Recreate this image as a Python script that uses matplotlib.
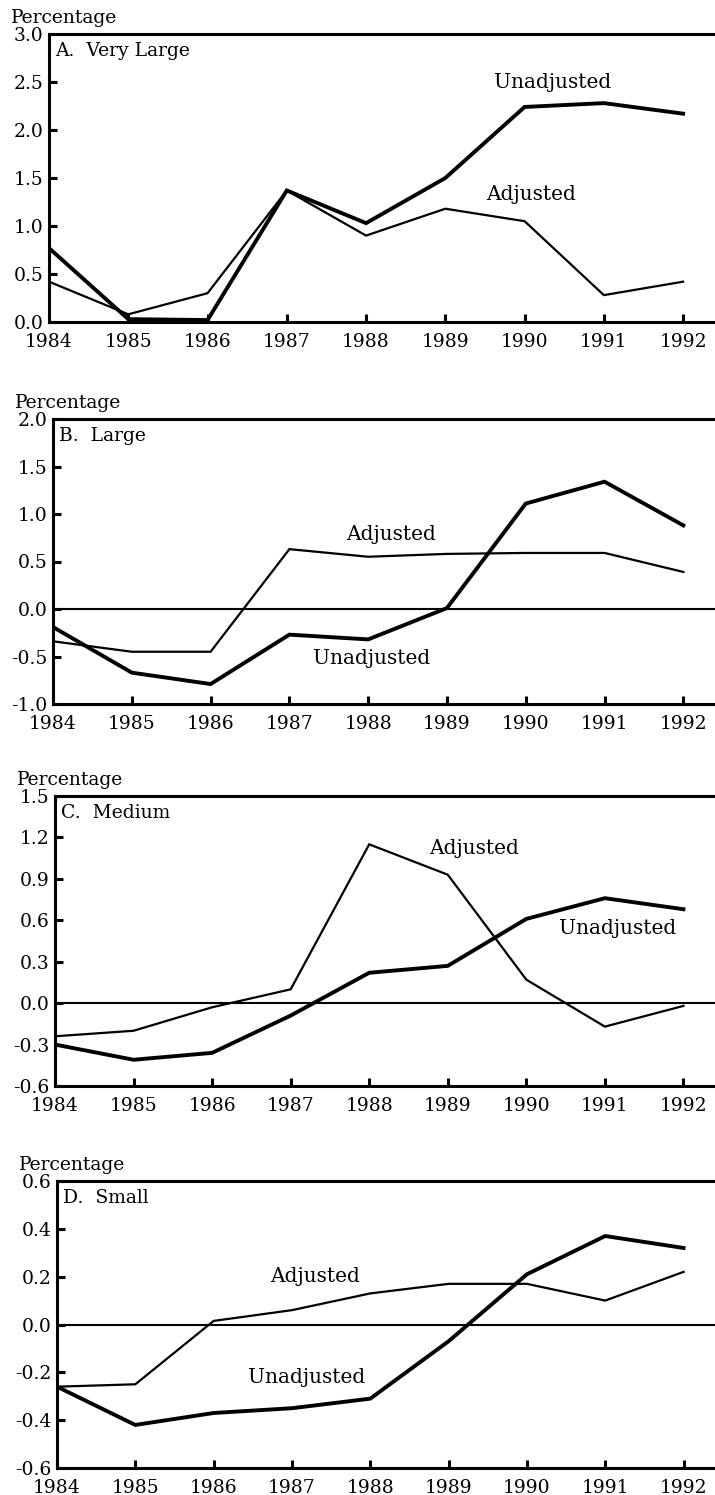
#Plot: unadjusted vs adjusted percentages by size class (1984-1992)
import matplotlib
matplotlib.use("Agg")
import matplotlib.pyplot as plt
from matplotlib.ticker import FuncFormatter

plt.rcParams.update({'font.family': 'DejaVu Serif'})

years = [1984, 1985, 1986, 1987, 1988, 1989, 1990, 1991, 1992]

#A. Very Large
a_unadj = [0.77, 0.03, 0.02, 1.37, 1.03, 1.50, 2.24, 2.28, 2.17]
a_adj = [0.42, 0.08, 0.30, 1.37, 0.90, 1.18, 1.05, 0.28, 0.42]
#B. Large
b_unadj = [-0.19, -0.67, -0.79, -0.27, -0.32, 0.01, 1.11, 1.34, 0.88]
b_adj = [-0.34, -0.45, -0.45, 0.63, 0.55, 0.58, 0.59, 0.59, 0.39]
#C. Medium
c_unadj = [-0.30, -0.41, -0.36, -0.09, 0.22, 0.27, 0.61, 0.76, 0.68]
c_adj = [-0.24, -0.20, -0.03, 0.10, 1.15, 0.93, 0.17, -0.17, -0.02]
#D. Small
d_unadj = [-0.26, -0.42, -0.37, -0.35, -0.31, -0.07, 0.21, 0.37, 0.32]
d_adj = [-0.26, -0.25, 0.015, 0.06, 0.13, 0.17, 0.17, 0.10, 0.22]

titles = ["A.  Very Large", "B.  Large", "C.  Medium", "D.  Small"]
yticks_a = [0.0, 0.5, 1.0, 1.5, 2.0, 2.5, 3.0]
yticks_b = [-1.0, -0.5, 0.0, 0.5, 1.0, 1.5, 2.0]
yticks_c = [-0.6, -0.3, 0.0, 0.3, 0.6, 0.9, 1.2, 1.5]
yticks_d = [-0.6, -0.4, -0.2, 0.0, 0.2, 0.4, 0.6]

#label spots (x year, y value) for "Unadjusted" / "Adjusted"
unadj_pos = [(1990.35, 2.50), (1988.05, -0.52), (1991.16, 0.54), (1987.19, -0.22)]
adj_pos = [(1990.08, 1.33), (1988.29, 0.78), (1989.34, 1.12), (1987.30, 0.20)]

fig = plt.figure(figsize=(7.15, 14.95), dpi=100)
W, H = 715.0, 1495.0
#axes boxes in pixels: left, top, bottom (the scan drifts a bit to the right)
boxes = [(49, 34, 322), (53, 419, 704), (55, 796, 1086), (57, 1181, 1468)]

panels = [(a_unadj, a_adj, yticks_a), (b_unadj, b_adj, yticks_b),
          (c_unadj, c_adj, yticks_c), (d_unadj, d_adj, yticks_d)]

fmt = FuncFormatter(lambda v, p: ("%.1f" % v).replace("\u2212", "-"))

for i, (unadj, adj, yt) in enumerate(panels):
    left, top, bottom = boxes[i]
    ax = fig.add_axes([left / W, 1 - bottom / H, (W - left) / W + 0.002, (bottom - top) / H])
    ax.plot(years, adj, color="black", linewidth=1.6, solid_joinstyle="miter")
    ax.plot(years, unadj, color="black", linewidth=2.8, solid_joinstyle="miter")
    if yt[0] < 0:
        ax.axhline(0, color="black", linewidth=1.5)

    ax.set_xlim(1984, 1992.42)
    ax.set_ylim(yt[0], yt[-1])
    ax.set_xticks(years)
    ax.set_yticks(yt)
    ax.yaxis.set_major_formatter(fmt)
    ax.tick_params(axis="both", direction="in", length=6, width=2.2, labelsize=13.5)
    ax.tick_params(axis="x", pad=8)
    ax.tick_params(axis="y", pad=4)
    for s in ["left", "bottom", "top"]:
        ax.spines[s].set_linewidth(2.2)
    ax.spines["right"].set_visible(False)

    ax.annotate(titles[i], xy=(0, 1), xycoords="axes fraction", xytext=(4.5, -5.5),
                textcoords="offset points", ha="left", va="top", fontsize=13.5)
    ax.annotate("Percentage", xy=(0, 1), xycoords="axes fraction", xytext=(-27.5, 7.9),
                textcoords="offset points", ha="left", va="baseline", fontsize=13.5)
    ax.text(unadj_pos[i][0], unadj_pos[i][1], "Unadjusted", ha="center", va="center", fontsize=14.5)
    ax.text(adj_pos[i][0], adj_pos[i][1], "Adjusted", ha="center", va="center", fontsize=14.5)

fig.savefig("out.png", dpi=100)
